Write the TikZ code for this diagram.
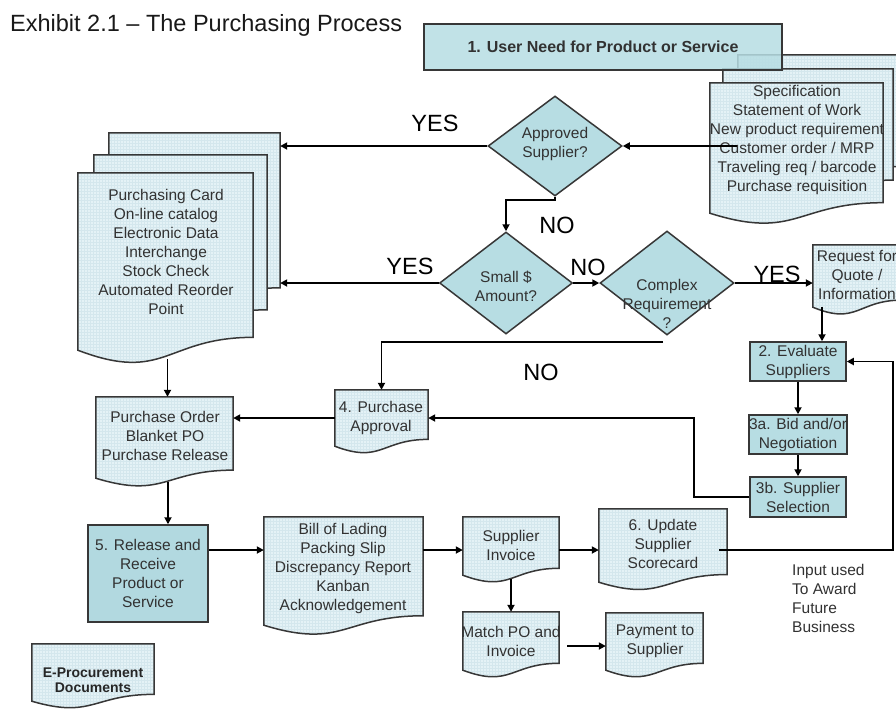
\documentclass[tikz,border=0pt]{standalone}
\usepackage{fontspec}
\setmainfont{Liberation Sans}
\usetikzlibrary{shapes.geometric,arrows.meta,backgrounds,calc,patterns}
\definecolor{tealA}{RGB}{183,221,227}
\definecolor{tealB}{RGB}{178,217,224}
\definecolor{docF}{RGB}{228,242,246}
\definecolor{gridC}{RGB}{212,231,237}
\definecolor{edgeC}{RGB}{55,55,55}
\definecolor{txtC}{RGB}{50,50,50}
\tikzset{
 docn/.style={rectangle, inner sep=0pt, draw=none},
 docstyle/.style={preaction={fill=docF}, pattern=grid, pattern color=gridC, draw=edgeC, line width=1.5pt},
 tbox/.style={rectangle, draw=edgeC, fill=tealA, line width=1.5pt, inner sep=0pt, align=center, text=txtC, font=\fontsize{15.5}{19}\selectfont},
 dia/.style={diamond, draw=edgeC, fill=tealA, line width=1.5pt, inner sep=0pt},
 txtn/.style={inner sep=0pt, align=center, text=txtC, font=\fontsize{15.5}{19}\selectfont},
 lbl/.style={inner sep=0pt, font=\fontsize{23.5}{28}\selectfont, text=black},
 arr/.style={draw=black, line width=1.8pt, -{Triangle[length=7pt,width=7pt]}},
}
\newcommand\mkdoc[5]{\node[docn, minimum width={(#4)-(#2)}, minimum height={(#5)-(#3)}] (#1) at ({((#2)+(#4))/2},{((#3)+(#5))/2}) {};}
\newcommand\drawdoc[1]{%
 \path[docstyle] let \p1=(#1.north west), \p2=(#1.south east), \n1={4+0.05*((\y1)-(\y2))} in
  (\p1) -- (\x2,\y1) -- (\x2,{\y2+\n1}) .. controls ({(\x1+\x2)/2},{\y2+\n1}) and ({(\x1+\x2)/2},{\y2-2.6*\n1}) .. (\x1,\y2) -- cycle;}
\begin{document}
\begin{tikzpicture}[x=1pt,y=-1pt]
\useasboundingbox (0,0) rectangle (896,713);

\node[lbl, anchor=base west, text=black!90] (title) at (10,31) {Exhibit 2.1 – The Purchasing Process};

% right stack
\mkdoc{rback}{738}{55}{912}{176}
\mkdoc{rmid}{723}{69}{893}{190}
\mkdoc{rdoc}{710}{83}{883}{213}
\node[txtn] (rtext) at (797,140) {Specification\\Statement of Work\\New product requirement\\Customer order / MRP\\Traveling req / barcode\\Purchase requisition};

\node[tbox, fill opacity=.85, text opacity=1, minimum width=358, minimum height=46, font=\fontsize{16}{19}\selectfont\bfseries] (need) at (603,47) {1. User Need for Product or Service};

% decisions
\node[dia, minimum width=134, minimum height=100] (appr) at (555,146) {};
\node[txtn] (apprt) at (555,144) {Approved\\Supplier?};
\node[dia, minimum width=133, minimum height=102] (small) at (506,283) {};
\node[txtn] (smallt) at (506,286) {Small \$\\Amount?};
\node[dia, minimum width=134, minimum height=104] (comp) at (667,283) {};
\node[txtn] (compt) at (667,304) {Complex\\Requirement\\?};

% left stack
\mkdoc{pcback}{109}{133}{280}{300}
\mkdoc{pcmid}{94}{155}{267}{322}
\mkdoc{pc}{78}{173}{253}{350}
\node[txtn] (pct) at (166,252) {Purchasing Card\\On-line catalog\\Electronic Data\\Interchange\\Stock Check\\Automated Reorder\\Point};

% right column
\mkdoc{rfq}{813}{245}{902}{307}
\node[txtn] (rfqt) at (857,275) {Request for\\Quote /\\Information};
\node[tbox, minimum width=96, minimum height=39] (eval) at (798,361.5) {2. Evaluate\\Suppliers};
\node[tbox, minimum width=96, minimum height=39] (bid) at (798,434.5) {3a. Bid and/or\\Negotiation};
\node[tbox, minimum width=96, minimum height=40] (sel) at (798,497) {3b. Supplier\\Selection};

% middle
\mkdoc{pa}{335}{390}{428}{446}
\node[txtn] (pat) at (381,418) {4. Purchase\\Approval};
\mkdoc{po}{96}{397}{233}{478}
\node[txtn] (pot) at (165,436) {Purchase Order\\Blanket PO\\Purchase Release};
\node[tbox, fill=tealB, minimum width=120, minimum height=97] (rel) at (148,573.5) {5. Release and\\Receive\\Product or\\Service};

% bottom row
\mkdoc{bol}{264}{517}{423}{625}
\node[txtn] (bolt) at (343,568) {Bill of Lading\\Packing Slip\\Discrepancy Report\\Kanban\\Acknowledgement};
\mkdoc{si}{463}{517}{559}{575}
\node[txtn] (sit) at (511,545) {Supplier\\Invoice};
\mkdoc{sc}{599}{509}{727}{582}
\node[txtn] (sct) at (663,544) {6. Update\\Supplier\\Scorecard};
\mkdoc{match}{463}{612}{559}{670}
\node[txtn] (matcht) at (511,641) {Match PO and\\Invoice};
\mkdoc{pay}{606}{613}{703}{670}
\node[txtn] (payt) at (655,641) {Payment to\\Supplier};
\mkdoc{eproc}{32}{644}{154}{701}
\node[txtn, font=\fontsize{14}{15}\selectfont\bfseries, text=black!85] (eproct) at (93,680) {E-Procurement\\Documents};
\node[txtn, align=left, anchor=west] (inp) at (792,598) {Input used\\To Award\\Future\\Business};

% labels
\node[lbl] (yes1) at (435,123) {YES};
\node[lbl] (no1) at (557,225) {NO};
\node[lbl] (yes2) at (410,266) {YES};
\node[lbl] (no2) at (588,267) {NO};
\node[lbl] (yes3) at (777,274) {YES};
\node[lbl] (no3) at (541,372) {NO};

% connectors
\coordinate (rin) at ($(rdoc.west |- appr.east)+(27,0)$);
\draw[arr] (rin) -- (appr.east);
\draw[arr] (appr.west) -- (appr.west -| pcback.east);
\draw[arr] (appr.south) -- ++(0,3) -| (small.north);
\draw[arr] (small.west) -- (small.west -| pcback.east);
\draw[arr] (small.east) -- (comp.west);
\draw[arr] (comp.east) -- (comp.east -| rfq.west);
\coordinate (evin) at ($(eval.north)+(24,0)$);
\draw[arr] (evin |- rfq.south) -- (evin);
\draw[arr] (eval.south) -- (bid.north);
\draw[arr] (bid.south) -- (sel.north);
\draw[arr] (sel.west) -- ++(-55,0) |- (pa.east);
\coordinate (noend) at (663,342);
\draw[arr] (noend) -| (pa.north);
\draw[arr] (pa.west) -- (pa.west -| po.east);
\coordinate (pcout) at ($(pc.south)+(2,9)$);
\draw[arr] (pcout) -- (pcout |- po.north);
\coordinate (poout) at ($(po.south)+(3.5,4)$);
\draw[arr] (poout) -- (poout |- rel.north);
\coordinate (row) at (0,550);
\draw[arr] (rel.east |- row) -- (bol.west |- row);
\draw[arr] (bol.east |- row) -- (si.west |- row);
\draw[arr] (si.east |- row) -- (sc.west |- row);
\coordinate (scout) at ($(sc.east |- row)+(-8,0)$);
\draw[arr] (scout) -- ++(174,0) |- (eval.east);
\draw[arr] ($(si.south)+(0,4)$) -- (match.north);
\coordinate (mout) at ($(match.east)+(8,5)$);
\draw[arr] (mout) -- (mout -| pay.west);

\begin{scope}[on background layer]
\fill[white] (0,0) rectangle (896,713);
\drawdoc{rback}\drawdoc{rmid}\drawdoc{rdoc}
\drawdoc{pcback}\drawdoc{pcmid}\drawdoc{pc}
\drawdoc{rfq}\drawdoc{pa}\drawdoc{po}\drawdoc{bol}\drawdoc{si}\drawdoc{sc}
\drawdoc{match}\drawdoc{pay}\drawdoc{eproc}
\end{scope}
\end{tikzpicture}
\end{document}
